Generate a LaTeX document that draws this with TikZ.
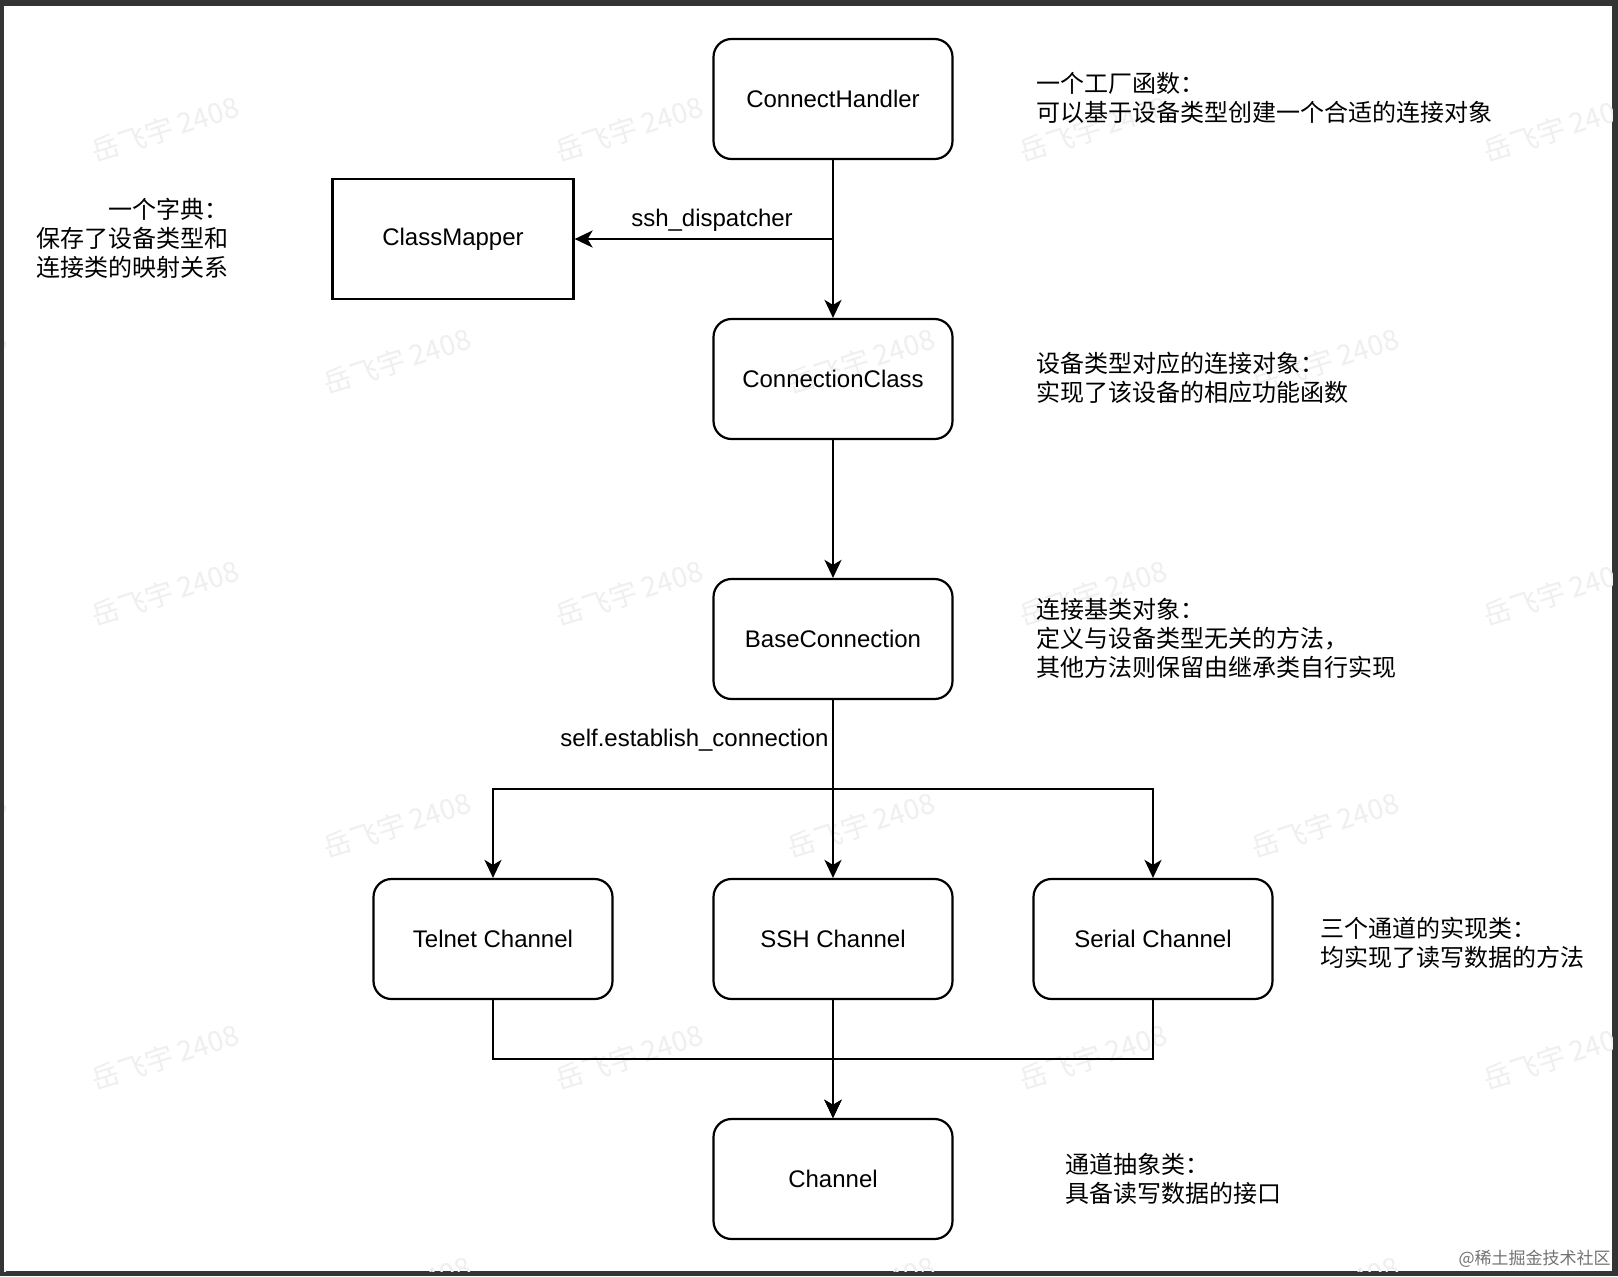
\documentclass[tikz,border=0pt]{standalone}
\usepackage{fontspec}
\setmainfont{Liberation Sans}
\newfontfamily\cjk{Noto Sans CJK SC}
\usetikzlibrary{arrows.meta}
\definecolor{framegray}{HTML}{343434}
\definecolor{wmgray}{HTML}{EFEFEF}
\begin{document}
\begin{tikzpicture}[x=0.5pt,y=-0.5pt,
  box/.style={draw=black, line width=1.1pt, rounded corners=9pt, minimum width=119.5pt, minimum height=60pt, inner sep=0pt, font=\fontsize{12}{14.5}\selectfont},
  sqbox/.style={box, rounded corners=0pt, minimum width=120.5pt},
  arr/.style={draw=black, line width=1.1pt, -{Stealth[length=9pt,width=8.5pt,inset=2.5pt]}},
  lbl/.style={inner sep=0pt, font=\fontsize{12}{14.5}\selectfont},
  note/.style={inner sep=0pt, font=\cjk\fontsize{12}{14.5}\selectfont},
  wm/.style={inner sep=0pt, text=wmgray, rotate=18, font=\cjk\fontsize{14}{16}\selectfont}
]
% frame
\fill[framegray] (0,0) rectangle (1618,1276);
\fill[white] (4,6) rectangle (1612,1271);
\useasboundingbox (0,0) rectangle (1618,1276);

% watermarks
\begin{scope}
\clip (4,6) rectangle (1612,1271);
\foreach \yy in {129,593,1057} {
  \foreach \xx in {165,629,1093,1557} {
    \node[wm] (w\xx\yy) at (\xx,\yy) {岳飞宇 2408};
  }
}
\foreach \yy in {361,825,1289} {
  \foreach \xx in {-67,397,861,1325} {
    \node[wm] (v\xx\yy) at (\xx,\yy) {岳飞宇 2408};
  }
}
\end{scope}

% nodes
\node[box] (ch) at (833,99) {ConnectHandler};
\node[sqbox] (cm) at (453,239) {ClassMapper};
\node[box] (cc) at (833,379) {ConnectionClass};
\node[box] (bc) at (833,639) {BaseConnection};
\node[box] (tel) at (493,939) {Telnet Channel};
\node[box] (ssh) at (833,939) {SSH Channel};
\node[box] (ser) at (1153,939) {Serial Channel};
\node[box] (chan) at (833,1179) {Channel};

\coordinate (br) at (833,789);
\coordinate (mg) at (833,1059);

% connectors
\draw[arr] (ch.south) -- (cc.north);
\draw[arr] (ch.south) |- (cm.east);
\draw[arr] (cc.south) -- (bc.north);
\draw[arr] (bc.south) -- (ssh.north);
\draw[arr] (bc.south) -- (br) -| (tel.north);
\draw[arr] (bc.south) -- (br) -| (ser.north);
\draw[arr] (ssh.south) -- (chan.north);
\draw[arr] (tel.south) |- (mg) -- (chan.north);
\draw[arr] (ser.south) |- (mg) -- (chan.north);

% edge labels
\node[lbl] (l1) at (712,220) {ssh\_dispatcher};
\node[lbl, anchor=east] (l2) at (829,740) {self.establish\_connection};

% notes
\node[note, anchor=west, align=left] (n1) at (1036,97.5) {一个工厂函数：\\可以基于设备类型创建一个合适的连接对象};
\node[note, anchor=east, align=right] (n2) at (229,238) {一个字典：\\保存了设备类型和\\连接类的映射关系};
\node[note, anchor=west, align=left] (n3) at (1036,378) {设备类型对应的连接对象：\\实现了该设备的相应功能函数};
\node[note, anchor=west, align=left] (n4) at (1036,638.5) {连接基类对象：\\定义与设备类型无关的方法，\\其他方法则保留由继承类自行实现};
\node[note, anchor=west, align=left] (n5) at (1320,943) {三个通道的实现类：\\均实现了读写数据的方法};
\node[note, anchor=west, align=left] (n6) at (1065,1179) {通道抽象类：\\具备读写数据的接口};

\node[inner sep=0pt, anchor=east, text=black!55, font=\cjk\fontsize{8.5}{10}\selectfont] (src) at (1611,1259) {@稀土掘金技术社区};
\end{tikzpicture}
\end{document}
